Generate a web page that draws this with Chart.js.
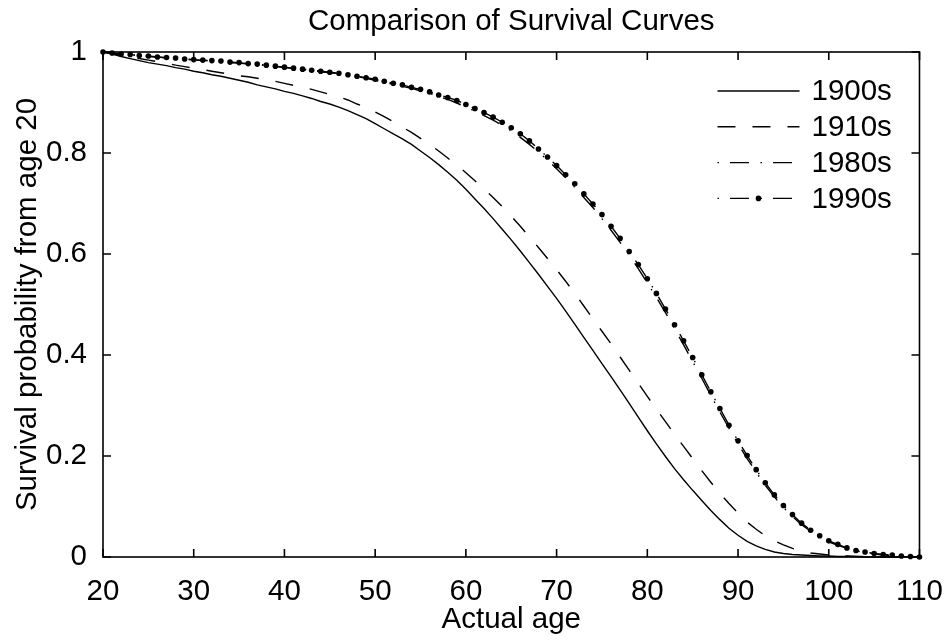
<!DOCTYPE html>
<html>
<head>
<meta charset="utf-8">
<title>Comparison of Survival Curves</title>
<script src="https://cdn.jsdelivr.net/npm/chart.js@4.4.1/dist/chart.umd.min.js"></script>
<style>
  html, body { margin: 0; padding: 0; background: #fff; }
  #wrap { width: 952px; height: 640px; }
</style>
</head>
<body>
<div id="wrap"><canvas id="survivalChart"></canvas></div>
<script>
// data (per tahun umur)
const ages = [
  20, 21, 22, 23, 24, 25, 26, 27, 28, 29,
  30, 31, 32, 33, 34, 35, 36, 37, 38, 39,
  40, 41, 42, 43, 44, 45, 46, 47, 48, 49,
  50, 51, 52, 53, 54, 55, 56, 57, 58, 59,
  60, 61, 62, 63, 64, 65, 66, 67, 68, 69,
  70, 71, 72, 73, 74, 75, 76, 77, 78, 79,
  80, 81, 82, 83, 84, 85, 86, 87, 88, 89,
  90, 91, 92, 93, 94, 95, 96, 97, 98, 99,
  100, 101, 102, 103, 104, 105, 106, 107, 108, 109, 110
]

const surv1900s = [
  1.000, 0.996, 0.991, 0.987, 0.983, 0.979, 0.976, 0.973, 0.969, 0.966,
  0.962, 0.959, 0.955, 0.952, 0.948, 0.944, 0.940, 0.935, 0.931, 0.927,
  0.922, 0.918, 0.913, 0.908, 0.902, 0.897, 0.891, 0.884, 0.876, 0.868,
  0.858, 0.848, 0.838, 0.828, 0.817, 0.804, 0.791, 0.777, 0.762, 0.746,
  0.728, 0.709, 0.690, 0.670, 0.649, 0.628, 0.606, 0.583, 0.560, 0.536,
  0.512, 0.487, 0.461, 0.435, 0.409, 0.383, 0.357, 0.331, 0.304, 0.277,
  0.250, 0.224, 0.199, 0.175, 0.153, 0.132, 0.112, 0.092, 0.074, 0.057,
  0.043, 0.031, 0.022, 0.015, 0.010, 0.007, 0.005, 0.004, 0.003, 0.002,
  0.002, 0.001, 0.001, 0.001, 0.000, 0.000, 0.000, 0.000, 0.000, 0.000, 0.000
]

const surv1910s = [
  1.000, 0.997, 0.993, 0.990, 0.987, 0.984, 0.981, 0.978, 0.974, 0.971,
  0.968, 0.965, 0.962, 0.959, 0.956, 0.953, 0.951, 0.948, 0.945, 0.942,
  0.938, 0.934, 0.930, 0.926, 0.921, 0.916, 0.911, 0.905, 0.897, 0.890,
  0.881, 0.872, 0.862, 0.851, 0.841, 0.829, 0.817, 0.804, 0.790, 0.776,
  0.761, 0.745, 0.729, 0.712, 0.694, 0.675, 0.655, 0.634, 0.613, 0.591,
  0.569, 0.546, 0.522, 0.497, 0.472, 0.447, 0.422, 0.396, 0.370, 0.344,
  0.318, 0.293, 0.268, 0.243, 0.219, 0.195, 0.171, 0.148, 0.126, 0.106,
  0.087, 0.069, 0.055, 0.042, 0.032, 0.024, 0.017, 0.012, 0.008, 0.006,
  0.004, 0.003, 0.002, 0.001, 0.001, 0.001, 0.000, 0.000, 0.000, 0.000, 0.000
]

const surv1980s = [
  1.000, 0.998, 0.996, 0.994, 0.993, 0.991, 0.990, 0.988, 0.987, 0.986,
  0.984, 0.983, 0.982, 0.981, 0.979, 0.978, 0.976, 0.975, 0.973, 0.971,
  0.969, 0.967, 0.965, 0.963, 0.961, 0.959, 0.957, 0.954, 0.951, 0.948,
  0.944, 0.940, 0.936, 0.932, 0.928, 0.923, 0.918, 0.912, 0.906, 0.899,
  0.891, 0.883, 0.874, 0.865, 0.855, 0.844, 0.831, 0.817, 0.802, 0.786,
  0.769, 0.751, 0.732, 0.712, 0.692, 0.670, 0.647, 0.623, 0.598, 0.571,
  0.543, 0.514, 0.484, 0.452, 0.420, 0.387, 0.354, 0.320, 0.287, 0.255,
  0.224, 0.195, 0.168, 0.142, 0.119, 0.098, 0.080, 0.064, 0.051, 0.040,
  0.030, 0.023, 0.017, 0.012, 0.009, 0.006, 0.004, 0.003, 0.002, 0.001, 0.000
]

const surv1990s = [
  1.000, 0.998, 0.996, 0.995, 0.993, 0.992, 0.990, 0.989, 0.988, 0.986,
  0.985, 0.984, 0.983, 0.982, 0.980, 0.979, 0.977, 0.976, 0.974, 0.972,
  0.970, 0.968, 0.966, 0.964, 0.962, 0.960, 0.958, 0.955, 0.952, 0.949,
  0.946, 0.942, 0.938, 0.935, 0.930, 0.926, 0.921, 0.915, 0.910, 0.904,
  0.896, 0.888, 0.880, 0.871, 0.861, 0.850, 0.838, 0.824, 0.808, 0.792,
  0.775, 0.757, 0.739, 0.719, 0.699, 0.678, 0.655, 0.631, 0.605, 0.579,
  0.551, 0.522, 0.491, 0.460, 0.428, 0.395, 0.361, 0.327, 0.294, 0.261,
  0.230, 0.201, 0.173, 0.147, 0.123, 0.102, 0.084, 0.067, 0.053, 0.042,
  0.032, 0.025, 0.018, 0.013, 0.010, 0.007, 0.005, 0.004, 0.002, 0.001, 0.000
]

const seriesLabels = ['1900s', '1910s', '1980s', '1990s']
const xTicks = [20, 30, 40, 50, 60, 70, 80, 90, 100, 110]
const yTicks = [0, 0.2, 0.4, 0.6, 0.8, 1]
const yTickLabels = ['0', '0.2', '0.4', '0.6', '0.8', '1']

const FONT = "'Liberation Sans', Arial, Helvetica, sans-serif"
const FS = 29.5
const DASH = [18, 17]
const DASHDOT = [19, 11.5, 1.5, 11]

Chart.defaults.color = '#000'
Chart.defaults.font.family = FONT

const toPoints = (vals) => ages.map((a, i) => ({ x: a, y: vals[i] }))

// kotak sumbu + tick ke dalam (gaya MATLAB)
const boxAxes = {
  id: 'boxAxes',
  afterDraw(chart) {
    const { ctx, chartArea: a, scales } = chart
    const tl = 8
    ctx.save()
    ctx.strokeStyle = '#000'
    ctx.lineWidth = 1.6
    ctx.setLineDash([])
    ctx.strokeRect(a.left, a.top, a.right - a.left, a.bottom - a.top)
    ctx.beginPath()
    xTicks.forEach((v) => {
      const px = scales.x.getPixelForValue(v)
      ctx.moveTo(px, a.bottom); ctx.lineTo(px, a.bottom - tl)
      ctx.moveTo(px, a.top); ctx.lineTo(px, a.top + tl)
    })
    yTicks.forEach((v) => {
      const py = scales.y.getPixelForValue(v)
      ctx.moveTo(a.left, py); ctx.lineTo(a.left + tl, py)
      ctx.moveTo(a.right, py); ctx.lineTo(a.right - tl, py)
    })
    ctx.stroke()
    ctx.restore()
  }
}

// legend tanpa kotak, pojok kanan atas
const lineLegend = {
  id: 'lineLegend',
  afterDraw(chart) {
    const { ctx, chartArea: a } = chart
    const x0 = a.right - 202
    const x1 = a.right - 120
    const tx = a.right - 108
    ctx.save()
    ctx.font = FS + 'px ' + FONT
    ctx.textBaseline = 'middle'
    ctx.textAlign = 'left'
    chart.data.datasets.forEach((ds, i) => {
      const y = a.top + 39 + i * 35.8
      ctx.strokeStyle = '#000'
      ctx.lineWidth = ds.borderWidth
      ctx.setLineDash(ds.borderDash || [])
      ctx.lineDashOffset = ds.borderDash === DASHDOT ? 30.5 : 0
      ctx.beginPath()
      ctx.moveTo(x0, y)
      ctx.lineTo(x1, y)
      ctx.stroke()
      if (ds.pointRadius) {
        ctx.setLineDash([])
        ctx.fillStyle = '#000'
        ctx.beginPath()
        ctx.arc((x0 + x1) / 2, y, ds.pointRadius, 0, Math.PI * 2)
        ctx.fill()
      }
      ctx.fillStyle = '#000'
      ctx.fillText(ds.label, tx, y + 1)
    })
    ctx.restore()
  }
}

const lineBase = {
  borderColor: '#000',
  backgroundColor: '#000',
  borderWidth: 1.4,
  pointRadius: 0,
  tension: 0,
  fill: false,
  clip: 6
}

new Chart(document.getElementById('survivalChart'), {
  type: 'line',
  data: {
    datasets: [
      { ...lineBase, label: seriesLabels[0], data: toPoints(surv1900s) },
      { ...lineBase, label: seriesLabels[1], data: toPoints(surv1910s), borderDash: DASH },
      { ...lineBase, label: seriesLabels[2], data: toPoints(surv1980s), borderDash: DASHDOT },
      {
        ...lineBase,
        label: seriesLabels[3],
        data: toPoints(surv1990s),
        borderDash: DASHDOT,
        pointRadius: 2.8,
        pointBorderWidth: 0,
        pointBackgroundColor: '#000'
      }
    ]
  },
  options: {
    responsive: true,
    maintainAspectRatio: false,
    animation: false,
    events: [],
    layout: { padding: { left: 0, right: 29, top: 0, bottom: 0 } },
    plugins: {
      legend: { display: false },
      tooltip: { enabled: false },
      title: {
        display: true,
        fullSize: false,
        text: 'Comparison of Survival Curves',
        color: '#000',
        font: { size: FS, weight: 'normal', family: FONT },
        padding: { top: 4, bottom: 12.6 }
      }
    },
    scales: {
      x: {
        type: 'linear',
        min: 20,
        max: 110,
        grid: { display: false },
        border: { display: false },
        afterBuildTicks: (s) => { s.ticks = xTicks.map((v) => ({ value: v })) },
        afterFit: (s) => { s.height = 83 },
        ticks: {
          padding: 9,
          maxRotation: 0,
          autoSkip: false,
          color: '#000',
          font: { size: FS, family: FONT },
          callback: (v) => String(v)
        },
        title: {
          display: true,
          text: 'Actual age',
          color: '#000',
          font: { size: FS, family: FONT },
          padding: { top: 0, bottom: 2 }
        }
      },
      y: {
        min: 0,
        max: 1,
        grid: { display: false },
        border: { display: false },
        afterBuildTicks: (s) => { s.ticks = yTicks.map((v) => ({ value: v })) },
        afterFit: (s) => { s.width = 103 },
        ticks: {
          padding: 8,
          autoSkip: false,
          color: '#000',
          font: { size: FS, family: FONT },
          callback: (v, i) => yTickLabels[i]
        },
        title: {
          display: true,
          text: 'Survival probability from age 20',
          color: '#000',
          font: { size: FS, family: FONT },
          padding: { top: 10, bottom: 0 }
        }
      }
    }
  },
  plugins: [boxAxes, lineLegend]
})
</script>
</body>
</html>
